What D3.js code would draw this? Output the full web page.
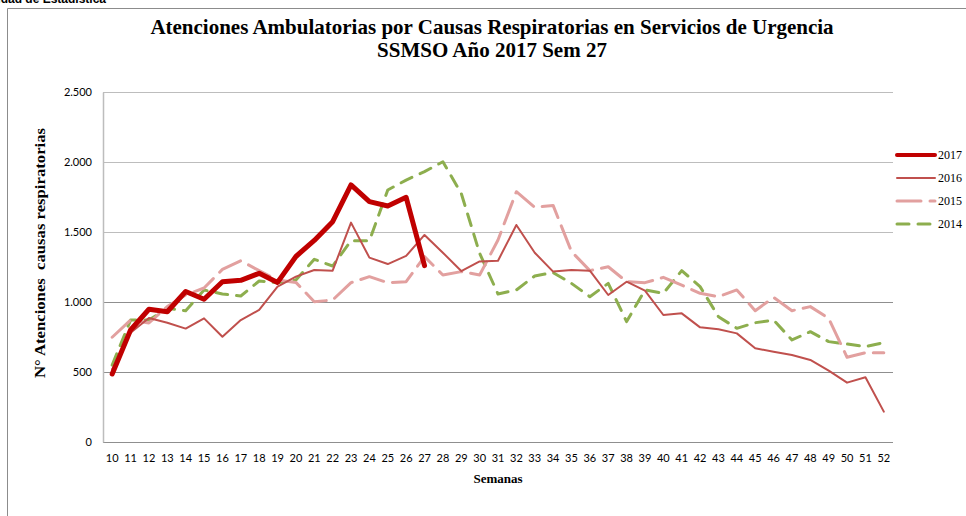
<!DOCTYPE html>
<html>
<head>
<meta charset="utf-8">
<script src="https://cdn.jsdelivr.net/npm/d3@7"></script>
<style>
  body { margin: 0; background: #fff; }
  svg { display: block; }
</style>
</head>
<body>
<div id="chart"></div>
<script>
// semanas epidemiologicas
const semanas = d3.range(10, 53);

// atenciones por semana
const s2017 = [486, 800, 948, 930, 1075, 1020, 1145, 1155, 1205, 1140, 1325, 1440, 1574, 1836, 1717, 1686, 1748, 1260];
const s2016 = [520, 780, 886, 852, 810, 883, 752, 871, 943, 1110, 1181, 1229, 1224, 1567, 1317, 1271, 1329, 1479, 1352, 1221,
  1290, 1295, 1550, 1352, 1217, 1229, 1224, 1050, 1145, 1081, 907, 919, 819, 805, 776, 669, 645, 621, 586, 510, 424, 462, 217];
const s2015 = [748, 871, 850, 967, 1050, 1100, 1233, 1295, 1224, 1157, 1140, 1002, 1014, 1138, 1181, 1138, 1145, 1324, 1193, 1217,
  1193, 1443, 1788, 1676, 1690, 1360, 1224, 1252, 1145, 1138, 1176, 1121, 1062, 1038, 1086, 938, 1033, 938, 967, 883, 605, 638, 638];
const s2014 = [550, 871, 871, 955, 938, 1086, 1057, 1043, 1150, 1138, 1157, 1305, 1257, 1438, 1438, 1800, 1871, 1931, 2002, 1776,
  1348, 1057, 1086, 1186, 1210, 1133, 1038, 1133, 860, 1086, 1062, 1224, 1110, 895, 812, 852, 871, 729, 788, 717, 700, 681, 710];

const y_ticks = [0, 500, 1000, 1500, 2000, 2500];

const series = [
  {name: "2017", values: s2017, color: "#C00000", width: 5, dash: null},
  {name: "2016", values: s2016, color: "#C0504D", width: 2, dash: null},
  {name: "2015", values: s2015, color: "#E2A09F", width: 3, dash: "24 9"},
  {name: "2014", values: s2014, color: "#8DAE4E", width: 3, dash: "12 9"}
];

const width = 966, height = 516;
const plot = {left: 103, right: 893, top: 92, bottom: 442};

const fmt = d3.formatLocale({decimal: ",", thousands: ".", grouping: [3], currency: ["$", ""]}).format(",");

const svg = d3.select("#chart").append("svg")
    .attr("width", width)
    .attr("height", height);

// marco del grafico
svg.append("path")
    .attr("d", `M7.5,${height} V8.5 H${width}`)
    .attr("fill", "none")
    .attr("stroke", "#8c8c8c")
    .attr("stroke-width", 1);

// encabezado de la hoja, cortado arriba como en el original
svg.append("text")
    .attr("x", 106).attr("y", 3)
    .attr("text-anchor", "end")
    .attr("font-family", "Liberation Sans, Arial, sans-serif")
    .attr("font-weight", "bold")
    .attr("font-size", 12)
    .text("Unidad de Estadística");

const x = d3.scaleBand().domain(semanas).range([plot.left, plot.right]).padding(0);
const y = d3.scaleLinear().domain([0, 2500]).range([plot.bottom, plot.top]);
const cx = d => x(d) + x.bandwidth() / 2;

// lineas de grilla
svg.append("g")
  .selectAll("line")
  .data(y_ticks)
  .join("line")
    .attr("x1", plot.left).attr("x2", plot.right)
    .attr("y1", d => Math.round(y(d)) + 0.5).attr("y2", d => Math.round(y(d)) + 0.5)
    .attr("stroke", d => d >= 1500 ? "#bdbdbd" : "#8f8f8f")
    .attr("stroke-width", 1);

// eje Y
const yAxis = svg.append("g")
    .attr("transform", `translate(${plot.left},0)`)
    .call(d3.axisLeft(y).tickValues(y_ticks).tickSize(0).tickPadding(11).tickFormat(fmt));
yAxis.select(".domain").attr("stroke", "#bdbdbd").attr("stroke-width", 1.5);
yAxis.selectAll("text")
    .attr("font-family", "Lato, sans-serif")
    .attr("font-size", 11)
    .attr("fill", "#000");

// eje X
const xAxis = svg.append("g")
    .attr("transform", `translate(0,${plot.bottom})`)
    .call(d3.axisBottom(x).tickSize(0).tickPadding(12));
xAxis.select(".domain").remove();
xAxis.selectAll("text")
    .attr("font-family", "Lato, sans-serif")
    .attr("font-size", 11)
    .attr("fill", "#000");

// series
const line = d3.line()
    .x((d, i) => cx(semanas[i]))
    .y(d => y(d));

// dibujar de atras hacia adelante
series.slice().reverse().forEach(s => {
  svg.append("path")
      .datum(s.values)
      .attr("d", line)
      .attr("fill", "none")
      .attr("stroke", s.color)
      .attr("stroke-width", s.width)
      .attr("stroke-linejoin", "round")
      .attr("stroke-linecap", "round")
      .attr("stroke-dasharray", s.dash);
});

// leyenda
const legend = svg.append("g")
  .selectAll("g")
  .data(series)
  .join("g")
    .attr("transform", (d, i) => `translate(897,${155 + i * 23})`);
legend.append("line")
    .attr("x1", 0).attr("x2", 38)
    .attr("stroke", d => d.color)
    .attr("stroke-width", d => d.width == 5 ? 4 : d.width)
    .attr("stroke-linecap", "round")
    .attr("stroke-dasharray", d => d.dash);
legend.append("text")
    .attr("x", 41).attr("y", 4)
    .attr("font-family", "Liberation Serif, serif")
    .attr("font-size", 12)
    .text(d => d.name);

// titulos
svg.append("text")
    .attr("x", 492).attr("y", 34)
    .attr("text-anchor", "middle")
    .attr("font-family", "Liberation Serif, serif")
    .attr("font-weight", "bold")
    .attr("font-size", 21)
    .text("Atenciones Ambulatorias por Causas Respiratorias en Servicios de Urgencia");
svg.append("text")
    .attr("x", 492).attr("y", 57)
    .attr("text-anchor", "middle")
    .attr("font-family", "Liberation Serif, serif")
    .attr("font-weight", "bold")
    .attr("font-size", 21)
    .text("SSMSO Año 2017 Sem 27");

svg.append("text")
    .attr("x", 498).attr("y", 483)
    .attr("text-anchor", "middle")
    .attr("font-family", "Liberation Serif, serif")
    .attr("font-weight", "bold")
    .attr("font-size", 13)
    .text("Semanas");

svg.append("text")
    .attr("transform", "translate(45,253) rotate(-90)")
    .attr("text-anchor", "middle")
    .attr("font-family", "Liberation Serif, serif")
    .attr("font-weight", "bold")
    .attr("font-size", 14)
    .attr("textLength", 250)
    .attr("lengthAdjust", "spacingAndGlyphs")
    .attr("xml:space", "preserve")
    .text("N° Atenciones  causas respiratorias");
</script>
</body>
</html>
